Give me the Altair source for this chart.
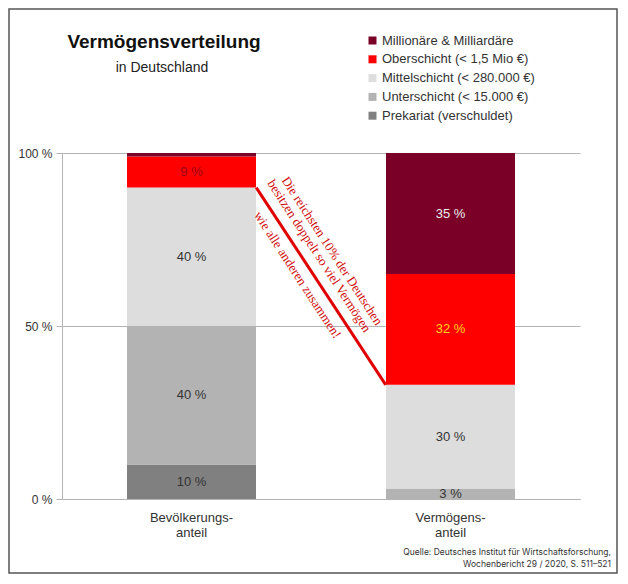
import altair as alt
import pandas as pd

# ---- data ----
categories = ["Bevölkerungsanteil", "Vermögensanteil"]
category_lines = {"Bevölkerungsanteil": ["Bevölkerungs-", "anteil"],
                  "Vermögensanteil": ["Vermögens-", "anteil"]}
classes = ["Prekariat (verschuldet)", "Unterschicht (< 15.000 €)",
           "Mittelschicht (< 280.000 €)", "Oberschicht (< 1,5 Mio €)",
           "Millionäre & Milliardäre"]
bevoelkerung = [10, 40, 40, 9, 1]
vermoegen = [0, 3, 30, 32, 35]
colors = ["#808080", "#b3b3b3", "#dddddd", "#ff0000", "#7b0027"]

title_text = "Vermögensverteilung"
subtitle_text = "in Deutschland"
annotation_lines = ["Die reichsten 10% der Deutschen",
                    "besitzen doppelt so viel Vermögen",
                    "wie alle anderen zusammen!"]
source_lines = ["Quelle: Deutsches Institut für Wirtschaftsforschung,",
                "Wochenbericht 29 / 2020, S. 511–521"]

rows = []
for cat, vals in zip(categories, [bevoelkerung, vermoegen]):
    for i, (k, v) in enumerate(zip(classes, vals)):
        rows.append({"category": cat, "klasse": k, "value": v, "order": i})
df = pd.DataFrame(rows)

# red connector: top of Mittelschicht in both bars
top_mid_bev = sum(bevoelkerung[:3])
top_mid_verm = sum(vermoegen[:3])
conn = pd.DataFrame([{"from": categories[0], "to": categories[1],
                      "ya": top_mid_bev, "yb": top_mid_verm}])

FONT = "Liberation Sans"
W, H = 518, 346

xscale = alt.Scale(domain=categories, paddingInner=0.5, paddingOuter=0.25)
label_expr = ("datum.label == '%s' ? ['%s', '%s'] : ['%s', '%s']" % (
    categories[0], *category_lines[categories[0]], *category_lines[categories[1]]))

x_enc = alt.X("category:N", sort=categories, scale=xscale,
              axis=alt.Axis(title=None, labelExpr=label_expr, labelFont=FONT,
                            labelFontSize=13, labelColor="#333333", labelAngle=0,
                            domainColor="#b3b3b3", ticks=False,
                            labelPadding=12, labelLineHeight=15))
yscale = alt.Scale(domain=[0, 100], nice=False)
y_axis = alt.Axis(title=None, values=[0, 50, 100], labelExpr="datum.value + ' %'",
                  labelFont=FONT, labelFontSize=12, labelColor="#333333",
                  domainColor="#b3b3b3", tickColor="#b3b3b3", tickSize=6,
                  gridColor="#b3b3b3", labelPadding=4)

bars = alt.Chart(df).mark_bar(size=129).encode(
    x=x_enc,
    y=alt.Y("value:Q", stack="zero", scale=yscale, axis=y_axis),
    color=alt.Color("klasse:N",
                    scale=alt.Scale(domain=classes[::-1], range=colors[::-1]),
                    legend=alt.Legend(title=None, orient="none", legendX=304, legendY=-119,
                                      symbolType="square", symbolSize=64,
                                      symbolStrokeWidth=0, labelFont=FONT,
                                      labelFontSize=13, labelColor="#333333",
                                      rowPadding=4.8, labelOffset=3)),
    order=alt.Order("order:Q"),
)

labels = alt.Chart(df).transform_stack(
    stack="value", groupby=["category"], as_=["y0", "y1"],
    sort=[alt.SortField("order", order="ascending")]
).transform_calculate(
    mid="(datum.y0 + datum.y1) / 2",
    txt="datum.value + ' %'",
    lc=("datum.order == 3 && datum.category == '%s' ? '#a0001a' : "
        "datum.order == 3 ? '#ffd320' : datum.order == 4 ? '#eeeeee' : '#333333'") % categories[0],
).transform_filter("datum.value >= 2").mark_text(
    font=FONT, fontSize=13, baseline="middle"
).encode(
    x=alt.X("category:N", sort=categories, scale=xscale, bandPosition=0.5),
    y=alt.Y("mid:Q", scale=yscale),
    text="txt:N",
    color=alt.Color("lc:N", scale=None),
)

connector = alt.Chart(conn).mark_rule(color="#e00000", strokeWidth=3).encode(
    x=alt.X("from:N", sort=categories, scale=xscale, bandPosition=1),
    x2=alt.X2("to:N", bandPosition=0),
    y=alt.Y("ya:Q", scale=yscale),
    y2="yb:Q",
)

ann_pos = [(270, 98), (257, 103), (235.5, 122)]
ann_layers = []
for line, (px, py) in zip(annotation_lines, ann_pos):
    ann_layers.append(
        alt.Chart(pd.DataFrame({"t": [line]})).mark_text(
            font="Liberation Serif", fontSize=13, color="#d01010", angle=57,
            align="center", baseline="middle"
        ).encode(x=alt.value(px), y=alt.value(py), text="t:N")
    )

title = alt.Chart(pd.DataFrame({"t": [title_text]})).mark_text(
    font=FONT, fontSize=19, fontWeight="bold", color="#111111", align="center", baseline="middle"
).encode(x=alt.value(102), y=alt.value(-111), text="t:N")
subtitle = alt.Chart(pd.DataFrame({"t": [subtitle_text]})).mark_text(
    font=FONT, fontSize=14, color="#222222", align="center", baseline="middle"
).encode(x=alt.value(100), y=alt.value(-85), text="t:N")

src1 = alt.Chart(pd.DataFrame({"t": [source_lines[0]]})).mark_text(
    font="Inter", fontSize=8.5, color="#333333", align="right", baseline="middle"
).encode(x=alt.value(549), y=alt.value(399), text="t:N")
src2 = alt.Chart(pd.DataFrame({"t": [source_lines[1]]})).mark_text(
    font="Inter", fontSize=8.5, color="#333333", align="right", baseline="middle"
).encode(x=alt.value(549), y=alt.value(411), text="t:N")

frame = alt.Chart(pd.DataFrame({"a": [0]})).mark_rect(
    fill=None, stroke="#555555", strokeWidth=1.5
).encode(x=alt.value(-53), x2=alt.value(555), y=alt.value(-144), y2=alt.value(420))

chart = alt.layer(
    bars, labels, connector, *ann_layers, title, subtitle, src1, src2, frame
).properties(
    width=W, height=H,
    padding={"left": 54, "top": 145, "right": 38, "bottom": 76},
    autosize=alt.AutoSizeParams(type="none"),
    background="white",
).configure_view(stroke=None).configure_axis(grid=False).configure_axisY(grid=True)

chart.save("out.html", embed_options={"renderer": "svg", "actions": False})
